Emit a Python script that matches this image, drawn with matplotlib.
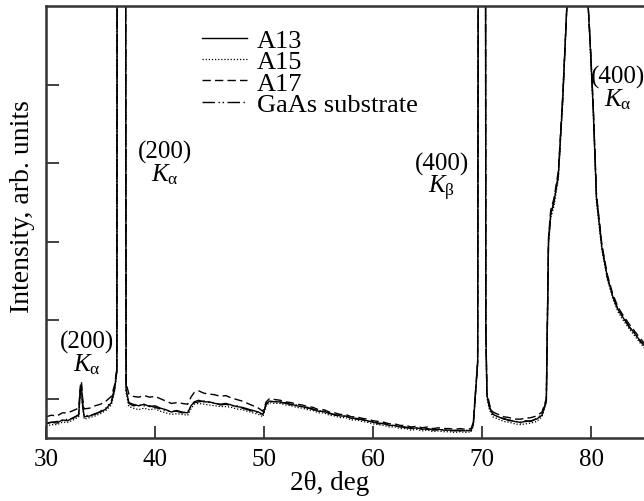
import matplotlib
matplotlib.use("Agg")
import matplotlib.pyplot as plt

plt.rcParams["font.family"] = ["Liberation Serif", "DejaVu Serif"]
plt.rcParams["mathtext.fontset"] = "custom"
plt.rcParams["mathtext.rm"] = "Liberation Serif"
plt.rcParams["mathtext.it"] = "Liberation Serif:italic"

# 2theta grid, split into stretches between the peaks
x_a = [30.0, 30.5, 31.0, 31.5, 32.0, 32.5, 33.0, 33.15, 33.25, 33.35, 33.5,
       34.0, 34.5, 35.0, 35.5, 36.0, 36.3, 36.5]
x_p1 = [36.6, 37.2]
x_b = [37.35, 37.6, 38.0, 38.5, 39.0, 39.5, 40.0, 40.5, 41.0, 41.5, 42.0,
       42.5, 43.0, 43.3, 43.6, 44.0, 44.5, 45.0, 45.5, 46.0, 46.5, 47.0,
       47.5, 48.0, 48.5, 49.0, 49.5, 49.9]
x_c = [50.2, 50.5, 51.0, 51.5, 52.0, 52.5, 53.0, 53.5, 54.0, 54.5, 55.0,
       55.5, 56.0, 56.5, 57.0, 57.5, 58.0, 58.5, 59.0, 59.5, 60.0, 60.5,
       61.0, 61.5, 62.0, 62.5, 63.0, 63.5, 64.0, 64.5, 65.0, 65.5, 66.0,
       66.5, 67.0, 67.5, 68.0, 68.5, 69.0]
x_d = [69.2, 69.45, 69.6, 69.8, 70.25, 70.35]
x_e = [70.45, 70.7, 71.0, 71.5, 72.0, 72.5, 73.0, 73.5, 74.0, 74.5, 75.0,
       75.5, 75.9]
x_f = [76.1, 76.3, 76.6, 77.0, 77.4, 77.8, 78.0, 79.5, 79.7]
x_g = [79.9, 80.2, 80.5, 81.0, 81.5, 82.0, 82.5, 83.0, 83.5, 84.0, 84.5, 85.0]
two_theta = x_a + x_p1 + x_b + x_c + x_d + x_e + x_f + x_g

a13 = ([0.18, 0.20, 0.19, 0.23, 0.22, 0.26, 0.29, 0.62, 0.68, 0.44, 0.27,
        0.28, 0.31, 0.33, 0.37, 0.45, 0.62, 0.86]
       + [20, 20]
       + [0.62, 0.45, 0.43, 0.41, 0.43, 0.40, 0.41, 0.38, 0.36, 0.33, 0.35,
          0.33, 0.32, 0.41, 0.46, 0.48, 0.46, 0.46, 0.44, 0.43, 0.44, 0.42,
          0.40, 0.39, 0.37, 0.35, 0.33, 0.30]
       + [0.43, 0.47, 0.46, 0.46, 0.44, 0.43, 0.41, 0.40, 0.38, 0.37, 0.34,
          0.34, 0.31, 0.30, 0.28, 0.28, 0.25, 0.25, 0.23, 0.22, 0.20, 0.19,
          0.18, 0.16, 0.16, 0.14, 0.14, 0.12, 0.13, 0.11, 0.12, 0.10, 0.11,
          0.10, 0.10, 0.09, 0.10, 0.09, 0.10]
       + [0.17, 0.66, 0.95, 20, 20, 1.4]
       + [0.55, 0.38, 0.30, 0.27, 0.24, 0.23, 0.21, 0.20, 0.21, 0.22, 0.24,
          0.29, 0.47]
       + [2.5, 2.85, 3.0, 3.35, 4.3, 5.55, 20, 20, 5.6]
       + [5.08, 4.2, 3.05, 2.42, 2.05, 1.80, 1.63, 1.52, 1.42, 1.33, 1.24, 1.16])

a15 = ([0.15, 0.17, 0.17, 0.20, 0.20, 0.23, 0.27, 0.58, 0.64, 0.40, 0.24,
        0.26, 0.28, 0.31, 0.35, 0.42, 0.60, 0.84]
       + [20, 20]
       + [0.58, 0.40, 0.38, 0.36, 0.38, 0.36, 0.37, 0.34, 0.32, 0.30, 0.31,
          0.30, 0.29, 0.37, 0.43, 0.44, 0.43, 0.42, 0.41, 0.40, 0.40, 0.39,
          0.37, 0.36, 0.34, 0.32, 0.30, 0.27]
       + [0.41, 0.45, 0.44, 0.44, 0.42, 0.41, 0.39, 0.38, 0.36, 0.35, 0.32,
          0.32, 0.29, 0.28, 0.26, 0.26, 0.23, 0.23, 0.21, 0.20, 0.18, 0.17,
          0.16, 0.14, 0.14, 0.12, 0.12, 0.10, 0.11, 0.09, 0.10, 0.08, 0.09,
          0.08, 0.08, 0.07, 0.08, 0.07, 0.08]
       + [0.15, 0.64, 0.93, 20, 20, 1.35]
       + [0.51, 0.35, 0.27, 0.24, 0.21, 0.20, 0.18, 0.17, 0.18, 0.19, 0.21,
          0.27, 0.45]
       + [2.45, 2.8, 2.95, 3.3, 4.25, 5.55, 20, 20, 5.6]
       + [5.03, 4.15, 3.0, 2.39, 2.02, 1.77, 1.60, 1.49, 1.39, 1.30, 1.21, 1.13])

a17 = ([0.27, 0.29, 0.28, 0.32, 0.32, 0.35, 0.38, 0.66, 0.72, 0.52, 0.37,
        0.38, 0.41, 0.43, 0.47, 0.53, 0.68, 0.88]
       + [20, 20]
       + [0.70, 0.56, 0.53, 0.52, 0.54, 0.52, 0.53, 0.50, 0.47, 0.44, 0.45,
          0.44, 0.43, 0.52, 0.58, 0.60, 0.57, 0.56, 0.55, 0.53, 0.54, 0.51,
          0.49, 0.47, 0.44, 0.41, 0.38, 0.34]
       + [0.46, 0.50, 0.49, 0.48, 0.46, 0.45, 0.43, 0.42, 0.40, 0.39, 0.36,
          0.36, 0.33, 0.32, 0.30, 0.30, 0.27, 0.27, 0.25, 0.24, 0.22, 0.21,
          0.20, 0.18, 0.18, 0.16, 0.16, 0.14, 0.15, 0.13, 0.14, 0.12, 0.13,
          0.12, 0.12, 0.11, 0.12, 0.11, 0.12]
       + [0.20, 0.69, 0.98, 20, 20, 1.45]
       + [0.58, 0.42, 0.33, 0.30, 0.27, 0.26, 0.24, 0.24, 0.25, 0.26, 0.28,
          0.33, 0.50]
       + [2.55, 2.9, 3.05, 3.4, 4.35, 5.55, 20, 20, 5.6]
       + [5.12, 4.25, 3.1, 2.46, 2.08, 1.83, 1.66, 1.55, 1.45, 1.36, 1.27, 1.19])

gaas = ([0.19, 0.20, 0.21, 0.22, 0.24, 0.25, 0.30, 0.60, 0.66, 0.45, 0.28,
         0.29, 0.30, 0.34, 0.38, 0.47, 0.64, 0.85]
        + [20, 20]
        + [0.60, 0.44, 0.41, 0.42, 0.41, 0.41, 0.39, 0.37, 0.35, 0.34, 0.34,
           0.32, 0.33, 0.40, 0.45, 0.46, 0.47, 0.45, 0.45, 0.42, 0.43, 0.41,
           0.41, 0.38, 0.36, 0.34, 0.32, 0.29]
        + [0.44, 0.46, 0.47, 0.45, 0.45, 0.42, 0.42, 0.39, 0.39, 0.36, 0.35,
           0.33, 0.32, 0.29, 0.29, 0.27, 0.26, 0.24, 0.24, 0.21, 0.21, 0.18,
           0.19, 0.17, 0.15, 0.15, 0.13, 0.13, 0.12, 0.12, 0.11, 0.11, 0.10,
           0.11, 0.09, 0.10, 0.09, 0.10, 0.09]
        + [0.18, 0.67, 0.96, 20, 20, 1.42]
        + [0.54, 0.39, 0.31, 0.26, 0.25, 0.22, 0.22, 0.19, 0.22, 0.21, 0.25,
           0.30, 0.48]
        + [2.52, 2.82, 3.02, 3.33, 4.32, 5.55, 20, 20, 5.6]
        + [5.1, 4.22, 3.08, 2.44, 2.04, 1.81, 1.62, 1.53, 1.41, 1.34, 1.23, 1.17])

labels = ["A13", "A15", "A17", "GaAs substrate"]
x_ticks = [30, 40, 50, 60, 70, 80]

fig = plt.figure(figsize=(6.44, 5.02), dpi=100)
ax = fig.add_axes([0.0714, 0.1255, 0.9286, 0.8605])

ax.plot(two_theta, a13, color="black", lw=1.0, ls="-", label=labels[0])
ax.plot(two_theta, a15, color="black", lw=0.9, ls=(0, (1, 1.5)), label=labels[1])
ax.plot(two_theta, a17, color="black", lw=1.0, ls=(0, (6, 3)), label=labels[2])
ax.plot(two_theta, gaas, color="black", lw=1.0, ls=(0, (9, 2.5, 1, 2, 1, 2.5)),
        label=labels[3])

ax.set_xlim(30, 84.86)
ax.set_ylim(0, 5.5)
ax.set_xticks(x_ticks)
ax.set_yticks([0.5, 1.5, 2.5, 3.5, 4.5])
ax.set_yticklabels([])
ax.tick_params(direction="in", length=9, width=1.3, labelsize=18, pad=7,
               color="#333333")
for side in ["left", "bottom", "top"]:
    ax.spines[side].set_linewidth(1.8)
    ax.spines[side].set_color("#333333")
ax.spines["right"].set_visible(False)

ax.set_xlabel("2θ, deg", fontsize=19.5)
ax.xaxis.set_label_coords(0.475, -0.074)
ax.set_ylabel("Intensity, arb. units", fontsize=20, va="center")
ax.yaxis.set_label_coords(-0.04, 0.537)

ka = r"$K_{\mathrm{α}}$"
kb = r"$K_{\mathrm{β}}$"
ann = [(33.75, 1.37, "(200)\n" + ka), (40.9, 3.79, "(200)\n" + ka),
       (66.3, 3.64, "(400)\n" + kb), (82.45, 4.75, "(400)\n" + ka)]
for xx, yy, s in ann:
    ax.text(xx, yy, s, fontsize=18, ha="center", va="top", linespacing=0.9)

ax.legend(loc="upper left", bbox_to_anchor=(0.261, 0.948), frameon=False,
          fontsize=19, handlelength=1.7, handletextpad=0.38, labelspacing=-0.08,
          borderpad=0, borderaxespad=0)

fig.savefig("out.png", dpi=100)
